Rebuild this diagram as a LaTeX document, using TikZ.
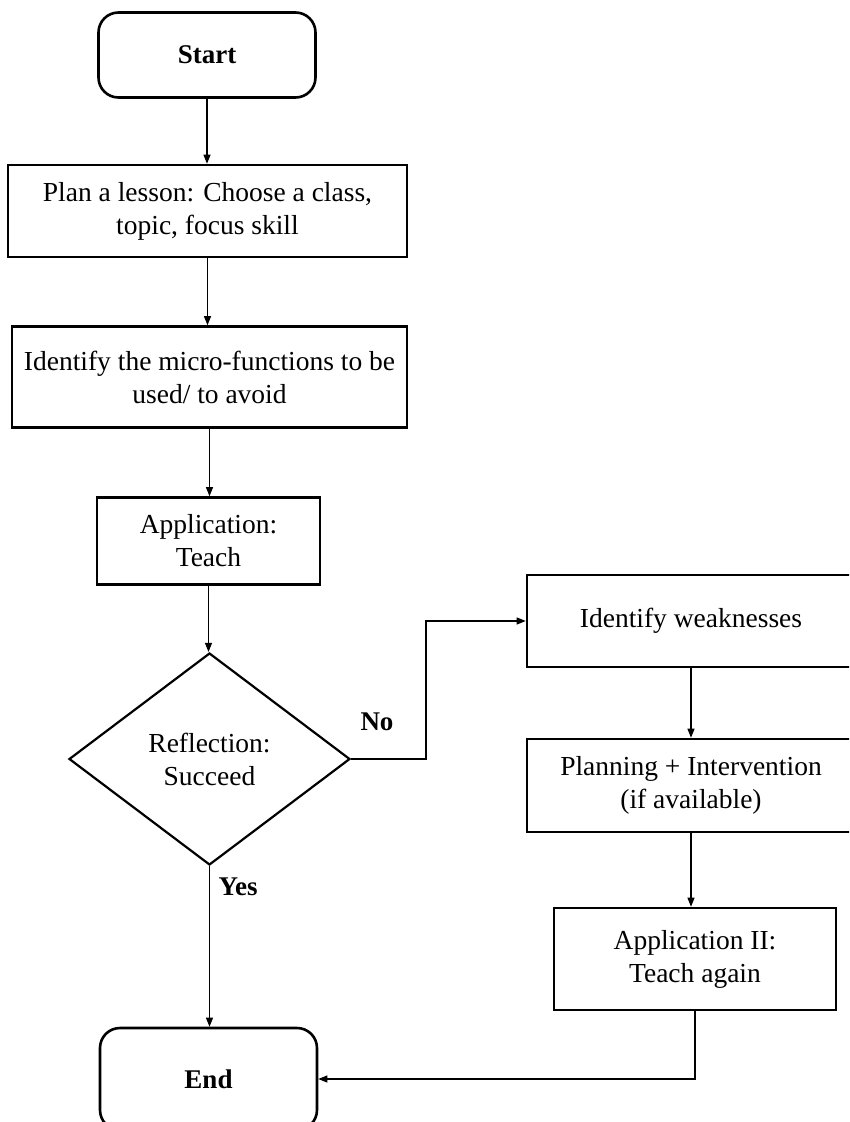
\documentclass[tikz,border=0pt]{standalone}
\usepackage{fontspec}
\setmainfont{Liberation Serif}
\usetikzlibrary{shapes.geometric, arrows.meta, positioning, calc}

\tikzset{
  stepbox/.style={draw, line width=2.6pt, align=center, inner sep=2pt},
  termbox/.style={draw, line width=2.6pt, rounded corners=20pt, align=center,
    minimum width=217pt, font=\fontsize{27}{33}\selectfont\bfseries},
  decbox/.style={draw, diamond, line width=2.2pt, align=center, inner sep=0pt,
    minimum width=281pt, minimum height=212pt},
  flow/.style={line width=1.1pt, -{Triangle[length=9pt,width=7pt]}},
  answer/.style={font=\fontsize{27}{33}\selectfont\bfseries}
}

\begin{document}
\begin{tikzpicture}[x=1pt, y=-1pt, font=\fontsize{27.5}{33}\selectfont]
\useasboundingbox (0,0) rectangle (849,1122);
\clip (0,0) rectangle (849,1122);

% main column
\node[termbox, minimum height=85pt] (start) at (207,55) {Start};
\node[stepbox, minimum width=399pt, minimum height=92pt] (plan) at (207.5,211)
  {Plan a lesson: Choose a class,\\ topic, focus skill};
\node[stepbox, minimum width=395pt, minimum height=101pt] (micro) at (209.5,377)
  {Identify the micro-functions to be\\ used/ to avoid};
\node[stepbox, minimum width=223pt, minimum height=87pt] (teach) at (208.5,541)
  {Application:\\ Teach};
\node[decbox] (reflect) at (209.5,759) {Reflection:\\ Succeed};
\node[termbox, minimum height=102pt] (end) at (208.5,1079) {End};

% right column
\node[stepbox, minimum width=328pt, minimum height=92pt] (weak) at (691,621)
  {Identify weaknesses};
\node[stepbox, minimum width=328pt, minimum height=93pt] (replan) at (691,785.5)
  {Planning + Intervention\\ (if available)};
\node[stepbox, minimum width=282pt, minimum height=102pt] (again) at (695,959)
  {Application II:\\ Teach again};

\node[answer] (nolabel) at (377,722) {No};
\node[answer] (yeslabel) at (238,887) {Yes};

% connectors
\draw[flow] (start.south) -- (start.south |- plan.north);
\draw[flow] (plan.south) -- (plan.south |- micro.north);
\draw[flow] (micro.south) -- (micro.south |- teach.north);
\draw[flow] (teach.south) -- (teach.south |- reflect.north);
\draw[flow] (reflect.south) -- (reflect.south |- end.north);
\coordinate (nobend) at (426,759);
\draw[flow] (reflect.east) -- (nobend) |- (weak.west);
\draw[flow] (weak.south) -- (weak.south |- replan.north);
\draw[flow] (replan.south) -- (replan.south |- again.north);
\draw[flow] (again.south) |- (end.east);
\end{tikzpicture}
\end{document}
